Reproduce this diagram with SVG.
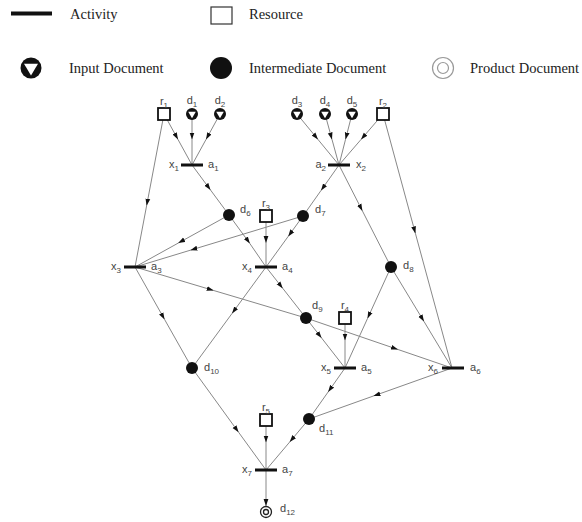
<svg xmlns="http://www.w3.org/2000/svg" width="582" height="522" viewBox="0 0 582 522">
  <style>
    .legend { font-family: "Liberation Serif", "Times New Roman", serif; font-size: 14.5px; fill: #222; }
    .lbl { font-family: "Liberation Sans", Arial, sans-serif; font-size: 11px; fill: #444; }
    .sub { font-size: 8px; }
    .edge { fill: none; stroke: #888; stroke-width: 1; marker-mid: url(#arrow); }
    .bar { fill: #111; }
    .res { fill: #fff; stroke: #111; stroke-width: 1.8; }
    .inter { fill: #111; }
    .inring { fill: #111; }
    .intri { fill: #fff; }
    .prod { fill: none; stroke: #222; stroke-width: 1.3; }
  </style>
  <defs>
    <marker id="arrow" markerWidth="8" markerHeight="6" refX="7" refY="3" orient="auto" markerUnits="userSpaceOnUse">
      <path d="M0,0.6 L7,3 L0,5.4 z" fill="#111"/>
    </marker>
    <marker id="arrowEnd" markerWidth="8" markerHeight="6" refX="7" refY="3" orient="auto" markerUnits="userSpaceOnUse">
      <path d="M0,0.6 L7,3 L0,5.4 z" fill="#111"/>
    </marker>
    <!-- input document: black disc with a white downward triangle -->
    <g id="inputDoc">
      <circle r="6" class="inring"/>
      <path d="M-3.8,-2.2 L3.8,-2.2 L0,4.3 z" class="intri"/>
    </g>
  </defs>

  <rect width="582" height="522" fill="#fff"/>

  <!-- legend -->
  <g id="legend">
    <rect x="11" y="11.5" width="41" height="4" fill="#111"/>
    <text x="70" y="19" class="legend">Activity</text>
    <rect x="211" y="7" width="21" height="17" fill="#fff" stroke="#333" stroke-width="1.2"/>
    <text x="249" y="19" class="legend">Resource</text>
    <circle cx="31" cy="68" r="10.5" fill="#111"/>
    <path d="M24,63.8 L38,63.8 L31,75.5 z" fill="#fff"/>
    <text x="69" y="73" class="legend">Input Document</text>
    <circle cx="221" cy="68" r="11" fill="#111"/>
    <text x="249" y="73" class="legend">Intermediate Document</text>
    <circle cx="443" cy="68" r="10.5" fill="none" stroke="#999" stroke-width="1.2"/>
    <circle cx="443" cy="68" r="5.5" fill="none" stroke="#999" stroke-width="1.2"/>
    <text x="470" y="73" class="legend">Product Document</text>
  </g>

  <!-- connectors; the middle vertex of each path carries the arrowhead -->
  <g id="connectors">
    <path class="edge" d="M164,114 L178,139.5 L192,165"/>
    <path class="edge" d="M192,114 L192,139.5 L192,165"/>
    <path class="edge" d="M220,114 L206,139.5 L192,165"/>
    <path class="edge" d="M164,114 L146.6,205.8 L135,267"/>
    <path class="edge" d="M192,165 L210.5,190 L229,215"/>
    <path class="edge" d="M297,114 L318,139.5 L339,165"/>
    <path class="edge" d="M325,114 L332,139.5 L339,165"/>
    <path class="edge" d="M352,114 L345.5,139.5 L339,165"/>
    <path class="edge" d="M383,114 L361,139.5 L339,165"/>
    <path class="edge" d="M339,165 L321,190.5 L303,216"/>
    <path class="edge" d="M339,165 L362.4,210.9 L391,267"/>
    <path class="edge" d="M383,114 L415.4,233.4 L452,368"/>
    <path class="edge" d="M229,215 L178.2,243.1 L135,267"/>
    <path class="edge" d="M303,216 L190.4,250.2 L135,267"/>
    <path class="edge" d="M229,215 L249.9,243.6 L266,267"/>
    <path class="edge" d="M266,216 L266,243 L266,267"/>
    <path class="edge" d="M303,216 L288.2,236.4 L266,267"/>
    <path class="edge" d="M135,267 L213.7,290.5 L306,318"/>
    <path class="edge" d="M306,318 L398,349.5 L452,368"/>
    <path class="edge" d="M266,267 L282.8,288.4 L306,318"/>
    <path class="edge" d="M266,267 L232,313.5 L192,368"/>
    <path class="edge" d="M135,267 L164.6,319.5 L192,368"/>
    <path class="edge" d="M306,318 L321.6,338 L345,368"/>
    <path class="edge" d="M345,318 L345,340.5 L345,368"/>
    <path class="edge" d="M391,267 L367.5,318.5 L345,368"/>
    <path class="edge" d="M391,267 L424,321.5 L452,368"/>
    <path class="edge" d="M345,368 L328.1,392 L309,419"/>
    <path class="edge" d="M452,368 L373.4,396 L309,419"/>
    <path class="edge" d="M192,368 L238.6,432.3 L266,470"/>
    <path class="edge" d="M266,420 L266,442.5 L266,470"/>
    <path class="edge" d="M309,419 L289.7,442 L266,470"/>
    <path d="M266,470 L266,506" fill="none" stroke="#888" stroke-width="1" marker-end="url(#arrowEnd)"/>
  </g>

  <!-- resources -->
  <g id="r1"><rect x="158" y="108" width="12" height="12" class="res"/><text x="164" y="105" class="lbl" text-anchor="middle">r<tspan class="sub" dy="2.5">1</tspan></text></g>
  <g id="r2"><rect x="377" y="108" width="12" height="12" class="res"/><text x="383" y="105" class="lbl" text-anchor="middle">r<tspan class="sub" dy="2.5">2</tspan></text></g>
  <g id="r3"><rect x="260" y="210" width="12" height="12" class="res"/><text x="266" y="207" class="lbl" text-anchor="middle">r<tspan class="sub" dy="2.5">3</tspan></text></g>
  <g id="r4"><rect x="339" y="312" width="12" height="12" class="res"/><text x="345" y="309" class="lbl" text-anchor="middle">r<tspan class="sub" dy="2.5">4</tspan></text></g>
  <g id="r5"><rect x="260" y="414" width="12" height="12" class="res"/><text x="266" y="411" class="lbl" text-anchor="middle">r<tspan class="sub" dy="2.5">5</tspan></text></g>

  <!-- input documents -->
  <g id="d1"><use href="#inputDoc" x="192" y="114"/><text x="192" y="104" class="lbl" text-anchor="middle">d<tspan class="sub" dy="2.5">1</tspan></text></g>
  <g id="d2"><use href="#inputDoc" x="220" y="114"/><text x="220" y="104" class="lbl" text-anchor="middle">d<tspan class="sub" dy="2.5">2</tspan></text></g>
  <g id="d3"><use href="#inputDoc" x="297" y="114"/><text x="297" y="104" class="lbl" text-anchor="middle">d<tspan class="sub" dy="2.5">3</tspan></text></g>
  <g id="d4"><use href="#inputDoc" x="325" y="114"/><text x="325" y="104" class="lbl" text-anchor="middle">d<tspan class="sub" dy="2.5">4</tspan></text></g>
  <g id="d5"><use href="#inputDoc" x="352" y="114"/><text x="352" y="104" class="lbl" text-anchor="middle">d<tspan class="sub" dy="2.5">5</tspan></text></g>

  <!-- activities -->
  <g id="a1"><rect x="181" y="163.5" width="22" height="3" class="bar"/><text x="179" y="168" class="lbl" text-anchor="end">x<tspan class="sub" dy="2.5">1</tspan></text><text x="208" y="168" class="lbl">a<tspan class="sub" dy="2.5">1</tspan></text></g>
  <g id="a2"><rect x="328" y="163.5" width="22" height="3" class="bar"/><text x="326" y="168" class="lbl" text-anchor="end">a<tspan class="sub" dy="2.5">2</tspan></text><text x="356" y="168" class="lbl">x<tspan class="sub" dy="2.5">2</tspan></text></g>
  <g id="a3"><rect x="124" y="265.5" width="22" height="3" class="bar"/><text x="121" y="270" class="lbl" text-anchor="end">x<tspan class="sub" dy="2.5">3</tspan></text><text x="151" y="270" class="lbl">a<tspan class="sub" dy="2.5">3</tspan></text></g>
  <g id="a4"><rect x="255" y="265.5" width="22" height="3" class="bar"/><text x="252" y="270" class="lbl" text-anchor="end">x<tspan class="sub" dy="2.5">4</tspan></text><text x="282" y="270" class="lbl">a<tspan class="sub" dy="2.5">4</tspan></text></g>
  <g id="a5"><rect x="334" y="366.5" width="22" height="3" class="bar"/><text x="331" y="371" class="lbl" text-anchor="end">x<tspan class="sub" dy="2.5">5</tspan></text><text x="361" y="371" class="lbl">a<tspan class="sub" dy="2.5">5</tspan></text></g>
  <g id="a6"><rect x="442" y="366.5" width="22" height="3" class="bar"/><text x="438" y="371" class="lbl" text-anchor="end">x<tspan class="sub" dy="2.5">6</tspan></text><text x="470" y="371" class="lbl">a<tspan class="sub" dy="2.5">6</tspan></text></g>
  <g id="a7"><rect x="255" y="468.5" width="22" height="3" class="bar"/><text x="252" y="473" class="lbl" text-anchor="end">x<tspan class="sub" dy="2.5">7</tspan></text><text x="282" y="473" class="lbl">a<tspan class="sub" dy="2.5">7</tspan></text></g>

  <!-- intermediate documents -->
  <g id="d6"><circle cx="229" cy="215" r="6" class="inter"/><text x="240" y="213" class="lbl">d<tspan class="sub" dy="2.5">6</tspan></text></g>
  <g id="d7"><circle cx="303" cy="216" r="6" class="inter"/><text x="315" y="213" class="lbl">d<tspan class="sub" dy="2.5">7</tspan></text></g>
  <g id="d8"><circle cx="391" cy="267" r="6" class="inter"/><text x="403" y="269" class="lbl">d<tspan class="sub" dy="2.5">8</tspan></text></g>
  <g id="d9"><circle cx="306" cy="318" r="6" class="inter"/><text x="312" y="309" class="lbl">d<tspan class="sub" dy="2.5">9</tspan></text></g>
  <g id="d10"><circle cx="192" cy="368" r="6" class="inter"/><text x="204" y="371" class="lbl">d<tspan class="sub" dy="2.5">10</tspan></text></g>
  <g id="d11"><circle cx="309" cy="419" r="6" class="inter"/><text x="319" y="432" class="lbl">d<tspan class="sub" dy="2.5">11</tspan></text></g>

  <!-- product document -->
  <g id="d12"><circle cx="266" cy="512" r="5.5" class="prod"/><circle cx="266" cy="512" r="2.5" class="prod"/><text x="280" y="512" class="lbl">d<tspan class="sub" dy="2.5">12</tspan></text></g>
</svg>
